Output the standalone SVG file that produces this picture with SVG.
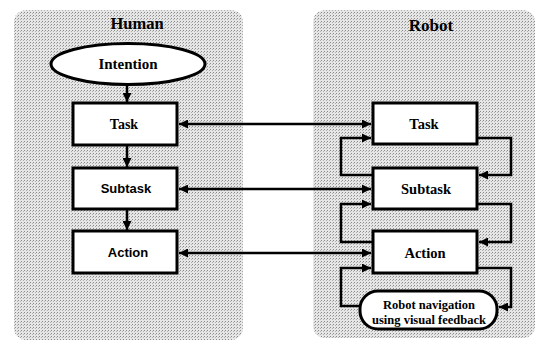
<svg xmlns="http://www.w3.org/2000/svg" width="541" height="349" viewBox="0 0 541 349">
<defs>
  <pattern id="stip" width="3" height="3" patternUnits="userSpaceOnUse">
    <rect width="3" height="3" fill="#e6e6e6"/>
    <rect x="0" y="0" width="1" height="1" fill="#8a8a8a"/>
    <rect x="2" y="1" width="1" height="1" fill="#b0b0b0"/>
  </pattern>
  <marker id="ah" viewBox="0 0 10 10" refX="10" refY="5" markerWidth="3.6" markerHeight="3.6" orient="auto-start-reverse" markerUnits="strokeWidth">
    <path d="M0,0 L10,5 L0,10 Z" fill="#000"/>
  </marker>
</defs>
<style>
  .panel { fill: url(#stip); stroke: none; }
  .box { fill: #fff; stroke: #000; stroke-width: 3; }
  .conn { fill: none; stroke: #000; stroke-width: 2.5; }
  .arr { marker-end: url(#ah); }
  .bi { marker-start: url(#ah); marker-end: url(#ah); }
  .serif { font-family: "Liberation Serif", "Times New Roman", serif; font-weight: bold; fill: #000; text-anchor: middle; }
  .sans { font-family: "Liberation Sans", Arial, sans-serif; font-weight: bold; fill: #000; text-anchor: middle; }
</style>
<rect width="541" height="349" fill="#fff"/>
<g id="panel-human">
  <rect class="panel" x="14" y="10" width="229" height="330" rx="12"/>
  <text class="serif" x="137" y="29" font-size="16.5">Human</text>
</g>
<g id="panel-robot">
  <rect class="panel" x="313" y="10" width="222" height="328" rx="12"/>
  <text class="serif" x="431" y="31" font-size="17">Robot</text>
</g>
<g id="connectors">
  <line class="conn arr" x1="127" y1="85" x2="127" y2="102"/>
  <line class="conn arr" x1="127" y1="146" x2="127" y2="167"/>
  <line class="conn arr" x1="127" y1="210" x2="127" y2="230"/>
  <line class="conn bi" x1="179" y1="124" x2="371" y2="124"/>
  <line class="conn bi" x1="179" y1="189" x2="371" y2="189"/>
  <line class="conn bi" x1="179" y1="253" x2="371" y2="253"/>
  <polyline class="conn arr" points="478,138 511,138 511,175 479,175"/>
  <polyline class="conn arr" points="372,175 341,175 341,138 371,138"/>
  <polyline class="conn arr" points="478,204 511,204 511,242 479,242"/>
  <polyline class="conn arr" points="372,242 341,242 341,204 371,204"/>
  <polyline class="conn arr" points="478,268 511,268 511,307 499,307"/>
  <polyline class="conn arr" points="360,306 341,306 341,268 371,268"/>
</g>
<g id="h-intention">
  <ellipse class="box" cx="128" cy="64" rx="77" ry="20.5"/>
  <text class="serif" x="128" y="69" font-size="15">Intention</text>
</g>
<g id="h-task">
  <rect class="box" x="73" y="103" width="104" height="42"/>
  <text class="serif" x="124" y="129" font-size="14">Task</text>
</g>
<g id="h-subtask">
  <rect class="box" x="73" y="168" width="104" height="41"/>
  <text class="sans" x="126" y="193" font-size="13">Subtask</text>
</g>
<g id="h-action">
  <rect class="box" x="73" y="231" width="104" height="42"/>
  <text class="sans" x="128" y="257" font-size="13">Action</text>
</g>
<g id="r-task">
  <rect class="box" x="373" y="103" width="104" height="41"/>
  <text class="serif" x="424" y="129" font-size="14.5">Task</text>
</g>
<g id="r-subtask">
  <rect class="box" x="373" y="168" width="104" height="41"/>
  <text class="serif" x="426" y="194" font-size="14.5">Subtask</text>
</g>
<g id="r-action">
  <rect class="box" x="373" y="231" width="104" height="42"/>
  <text class="serif" x="425" y="258" font-size="14.5">Action</text>
</g>
<g id="r-nav">
  <rect class="box" x="360" y="291" width="137" height="38" rx="18"/>
  <text class="serif" x="429" y="309" font-size="12.5">Robot navigation</text>
  <text class="serif" x="429" y="324" font-size="12.5">using visual feedback</text>
</g>
</svg>
